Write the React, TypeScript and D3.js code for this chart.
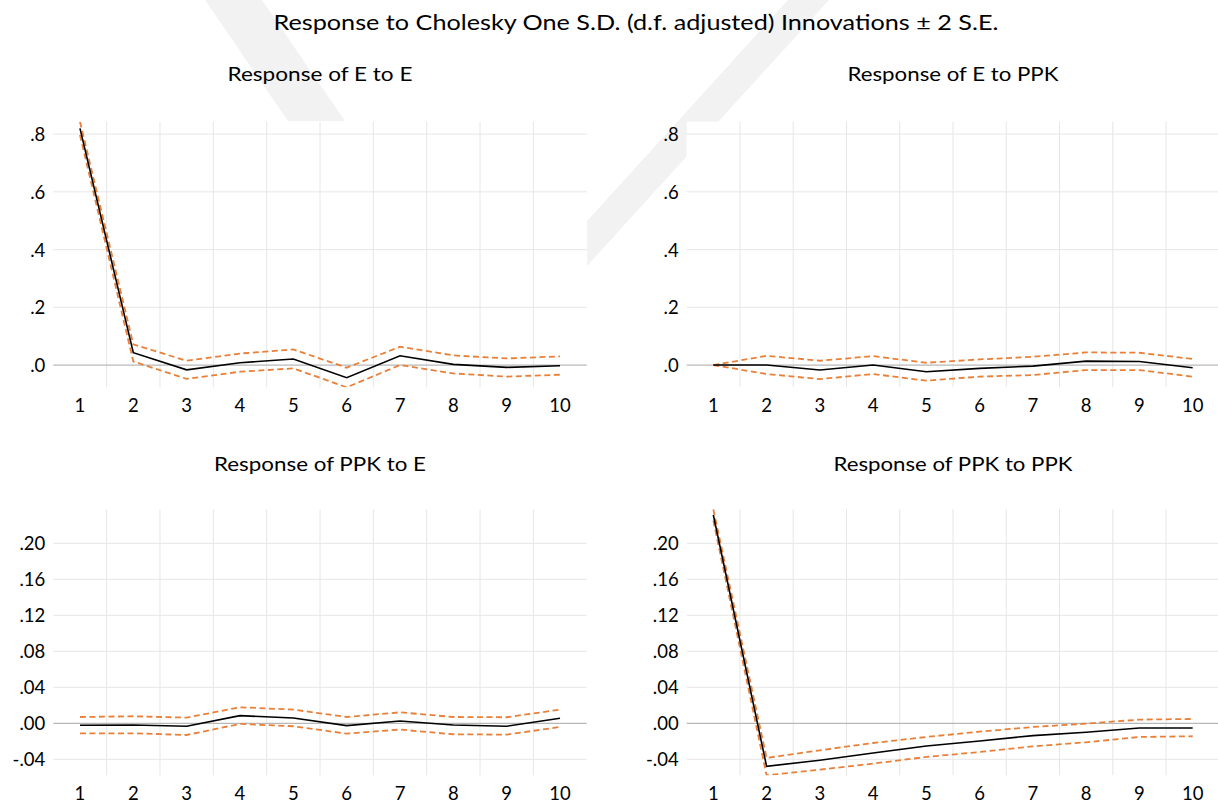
import React from "react";
import * as d3 from "d3";

const periods = [1, 2, 3, 4, 5, 6, 7, 8, 9, 10];

const eToE = [0.82, 0.0427, -0.0165, 0.008, 0.0208, -0.0439, 0.0323, 0.0023, -0.008, -0.0023];
const eToEUpper = [0.843, 0.0716, 0.015, 0.04, 0.054, -0.009, 0.0635, 0.0335, 0.023, 0.03];
const eToELower = [0.797, 0.0125, -0.048, -0.023, -0.0115, -0.077, 0.0, -0.029, -0.04, -0.0335];

const eToPPK = [0, 0, -0.017, 0, -0.023, -0.0115, -0.0035, 0.0135, 0.0125, -0.0095];
const eToPPKUpper = [0, 0.032, 0.015, 0.031, 0.008, 0.0196, 0.0285, 0.0439, 0.0427, 0.021];
const eToPPKLower = [0, -0.031, -0.0485, -0.031, -0.054, -0.04, -0.0346, -0.0173, -0.0173, -0.04];

const ppkToE = [-0.0022, -0.0019, -0.0033, 0.0085, 0.0059, -0.0026, 0.0026, -0.0019, -0.0033, 0.0056];
const ppkToEUpper = [0.007, 0.0078, 0.0063, 0.0178, 0.0152, 0.007, 0.0122, 0.007, 0.0067, 0.0152];
const ppkToELower = [-0.0111, -0.0111, -0.013, -0.0007, -0.0033, -0.0115, -0.007, -0.0122, -0.0126, -0.0041];

const ppkToPPK = [0.2315, -0.0478, -0.041, -0.033, -0.0252, -0.0196, -0.0137, -0.01, -0.0052, -0.0052];
const ppkToPPKUpper = [0.2378, -0.0385, -0.03, -0.0219, -0.0152, -0.0093, -0.0041, -0.0004, 0.0041, 0.0048];
const ppkToPPKLower = [0.2252, -0.0578, -0.0515, -0.0448, -0.0374, -0.0319, -0.0256, -0.0211, -0.0152, -0.0144];

const topTicks = [0, 0.2, 0.4, 0.6, 0.8];
const topTickLabels = [".0", ".2", ".4", ".6", ".8"];
const bottomTicks = [-0.04, 0, 0.04, 0.08, 0.12, 0.16, 0.2];
const bottomTickLabels = ["-.04", ".00", ".04", ".08", ".12", ".16", ".20"];

const mainTitle = "Response to Cholesky One S.D. (d.f. adjusted) Innovations \u00b1 2 S.E.";
const panelTitles = ["Response of E to E", "Response of E to PPK", "Response of PPK to E", "Response of PPK to PPK"];

const FONT = "Lato, 'Open Sans', sans-serif";
const ORANGE = "#E8803A";
const TEXT = "#000";

type PanelProps = {
  id: string;
  x0: number;
  x1: number;
  y0: number;
  y1: number;
  domain: [number, number];
  ticks: number[];
  tickLabels: string[];
  title: string;
  titleY: number;
  titleWidth: number;
  mid: number[];
  upper: number[];
  lower: number[];
};

function Panel(p: PanelProps) {
  const x = d3.scaleLinear().domain([0.5, 10.5]).range([p.x0, p.x1]);
  const y = d3.scaleLinear().domain(p.domain).range([p.y1, p.y0]);
  const line = (vals: number[]) =>
    d3
      .line<number>()
      .x((_, i) => x(periods[i]))
      .y((v) => y(v))(vals) || "";
  const cx = (p.x0 + p.x1) / 2;
  const vgrid = periods.slice(0, 9).map((d) => d + 0.5);
  return (
    <g>
      <defs>
        <clipPath id={p.id}>
          <rect x={p.x0} y={p.y0} width={p.x1 - p.x0} height={p.y1 - p.y0} />
        </clipPath>
      </defs>
      <text
        x={cx}
        y={p.titleY}
        textAnchor="middle"
        dominantBaseline="central"
        fontFamily={FONT}
        fontSize={20}
        fill={TEXT}
        textLength={p.titleWidth}
        lengthAdjust="spacingAndGlyphs"
      >
        {p.title}
      </text>
      <rect x={p.x0} y={p.y0} width={p.x1 - p.x0} height={p.y1 - p.y0} fill="#fff" />
      {vgrid.map((g) => (
        <line key={"v" + g} x1={x(g)} x2={x(g)} y1={p.y0} y2={p.y1} stroke="#e6e6e6" strokeWidth={1} />
      ))}
      {p.ticks.map((t) =>
        t === 0 ? null : (
          <line key={"h" + t} x1={p.x0} x2={p.x1} y1={y(t)} y2={y(t)} stroke="#e6e6e6" strokeWidth={1} />
        )
      )}
      <line x1={p.x0} x2={p.x1} y1={y(0)} y2={y(0)} stroke="#b8b8b8" strokeWidth={1.3} />
      {p.ticks.map((t, i) => (
        <text
          key={"yl" + t}
          x={p.x0 - 8}
          y={y(t)}
          textAnchor="end"
          dominantBaseline="central"
          fontFamily={FONT}
          fontSize={18.5}
          fill={TEXT}
        >
          {p.tickLabels[i]}
        </text>
      ))}
      {periods.map((d) => (
        <text
          key={"xl" + d}
          x={x(d)}
          y={p.y1 + 18}
          textAnchor="middle"
          dominantBaseline="central"
          fontFamily={FONT}
          fontSize={18.5}
          fill={TEXT}
        >
          {d}
        </text>
      ))}
      <g clipPath={`url(#${p.id})`}>
        <path d={line(p.upper)} fill="none" stroke={ORANGE} strokeWidth={1.8} strokeDasharray="6,3.5" />
        <path d={line(p.lower)} fill="none" stroke={ORANGE} strokeWidth={1.8} strokeDasharray="6,3.5" />
        <path d={line(p.mid)} fill="none" stroke="#000" strokeWidth={1.6} />
      </g>
    </g>
  );
}

export default function App() {
  const topDomain = d3.extent([...eToEUpper, ...eToELower, ...eToPPKUpper, ...eToPPKLower]) as [number, number];
  const bottomDomain = d3.extent([...ppkToEUpper, ...ppkToELower, ...ppkToPPKUpper, ...ppkToPPKLower]) as [number, number];
  const L = [53.3, 586.7];
  const R = [686.7, 1219.3];
  const T = [121.7, 387.3];
  const B = [509.3, 775.3];
  return (
    <svg
      width={1218}
      height={805}
      style={{ position: "absolute", left: 0, top: 0, background: "#fff" }}
    >
      <rect x={0} y={0} width={1218} height={805} fill="#fff" />
      <g fill="#f2f2f2">
        <polygon points="205,0 262,0 345,121 288,121" />
        <polygon points="788,0 829,0 587,266 587,221" />
      </g>
      <text
        x={636}
        y={21}
        textAnchor="middle"
        dominantBaseline="central"
        fontFamily={FONT}
        fontSize={22}
        fill={TEXT}
        textLength={725}
        lengthAdjust="spacingAndGlyphs"
      >
        {mainTitle}
      </text>
      <Panel id="c1" x0={L[0]} x1={L[1]} y0={T[0]} y1={T[1]} domain={topDomain} ticks={topTicks} tickLabels={topTickLabels}
        title={panelTitles[0]} titleY={73} titleWidth={185} mid={eToE} upper={eToEUpper} lower={eToELower} />
      <Panel id="c2" x0={R[0]} x1={R[1]} y0={T[0]} y1={T[1]} domain={topDomain} ticks={topTicks} tickLabels={topTickLabels}
        title={panelTitles[1]} titleY={73} titleWidth={211} mid={eToPPK} upper={eToPPKUpper} lower={eToPPKLower} />
      <Panel id="c3" x0={L[0]} x1={L[1]} y0={B[0]} y1={B[1]} domain={bottomDomain} ticks={bottomTicks} tickLabels={bottomTickLabels}
        title={panelTitles[2]} titleY={463} titleWidth={212} mid={ppkToE} upper={ppkToEUpper} lower={ppkToELower} />
      <Panel id="c4" x0={R[0]} x1={R[1]} y0={B[0]} y1={B[1]} domain={bottomDomain} ticks={bottomTicks} tickLabels={bottomTickLabels}
        title={panelTitles[3]} titleY={463} titleWidth={239} mid={ppkToPPK} upper={ppkToPPKUpper} lower={ppkToPPKLower} />
    </svg>
  );
}
